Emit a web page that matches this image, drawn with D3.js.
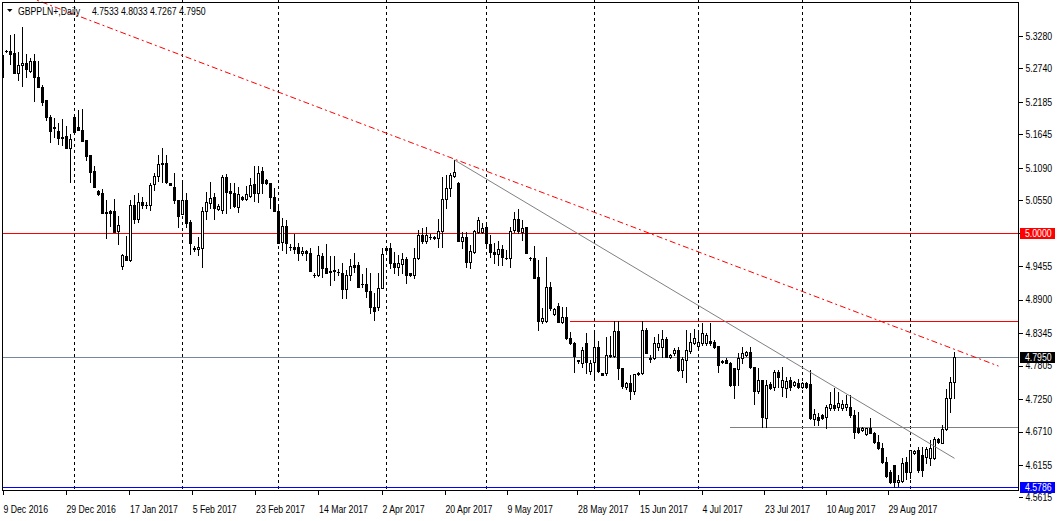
<!DOCTYPE html>
<html>
<head>
<meta charset="utf-8">
<script src="https://cdn.jsdelivr.net/npm/d3@7"></script>
<style>
  html, body { margin: 0; padding: 0; background: #fff; }
  svg { display: block; font-family: "Liberation Sans", Arial, sans-serif; }
</style>
</head>
<body>
<svg id="chart" width="1058" height="521"></svg>
<script>
"use strict";

// ---- data (daily GBPPLN+, one row per bar: open, high, low, close) ----
const symbol = "GBPPLN+,Daily";

const ohlc = [
  // 0
  [5.2595, 5.3209, 5.2495, 5.2960], [5.3026, 5.3043, 5.3010, 5.3020], [5.3026, 5.3292, 5.2811, 5.2977],
  [5.2988, 5.3304, 5.2656, 5.2666], [5.2666, 5.3015, 5.2545, 5.2794], [5.2794, 5.3430, 5.2450, 5.2827],
  [5.2832, 5.2977, 5.2595, 5.2733], [5.2699, 5.2910, 5.2683, 5.2855], [5.2865, 5.2977, 5.2201, 5.2590],
  [5.2590, 5.2860, 5.2434, 5.2434],
  // 10
  [5.2434, 5.2462, 5.2130, 5.2185], [5.2213, 5.2213, 5.1881, 5.1936], [5.1936, 5.1964, 5.1521, 5.1698],
  [5.1765, 5.1914, 5.1604, 5.1748], [5.1698, 5.1836, 5.1483, 5.1577], [5.1599, 5.1903, 5.1466, 5.1582],
  [5.1615, 5.1781, 5.1421, 5.1421], [5.1421, 5.1649, 5.0857, 5.1566], [5.1931, 5.1936, 5.1687, 5.1687],
  [5.1770, 5.2047, 5.1715, 5.1715],
  // 20
  [5.1715, 5.2064, 5.1537, 5.1537], [5.1549, 5.1549, 5.1217, 5.1288], [5.1300, 5.1300, 5.0847, 5.1023],
  [5.1034, 5.1122, 5.0774, 5.0774], [5.0697, 5.0719, 5.0641, 5.0653], [5.0664, 5.0731, 5.0342, 5.0342],
  [5.0354, 5.0553, 4.9917, 5.0337], [5.0365, 5.0387, 5.0121, 5.0342], [5.0365, 5.0570, 5.0027, 5.0027],
  [5.0043, 5.0287, 4.9823, 5.0138],
  // 30
  [4.9457, 4.9651, 4.9403, 4.9635], [4.9623, 4.9955, 4.9557, 4.9557], [4.9557, 5.0553, 4.9545, 5.0465],
  [5.0465, 5.0636, 5.0166, 5.0233], [5.0233, 5.0664, 5.0193, 5.0525], [5.0525, 5.0608, 5.0415, 5.0470],
  [5.0470, 5.0525, 5.0415, 5.0465], [5.0470, 5.0830, 5.0387, 5.0797], [5.0814, 5.1006, 5.0719, 5.0956],
  [5.0956, 5.1300, 5.0868, 5.1146],
  // 40
  [5.1146, 5.1411, 5.0852, 5.1160], [5.1162, 5.1300, 5.0830, 5.0857], [5.0830, 5.0835, 5.0795, 5.0802],
  [5.0764, 5.0996, 5.0498, 5.0553], [5.0553, 5.0553, 5.0110, 5.0292], [5.0321, 5.0830, 5.0321, 5.0553],
  [5.0553, 5.0664, 5.0110, 5.0171], [5.0193, 5.0221, 4.9657, 4.9834], [4.9756, 4.9790, 4.9706, 4.9745],
  [4.9734, 4.9944, 4.9640, 4.9767],
  // 50
  [4.9751, 5.0442, 4.9446, 5.0370], [5.0370, 5.0691, 5.0233, 5.0520], [5.0508, 5.0847, 5.0415, 5.0581],
  [5.0598, 5.0664, 5.0233, 5.0415], [5.0399, 5.0482, 5.0387, 5.0454], [5.0387, 5.0963, 5.0342, 5.0930],
  [5.0930, 5.0980, 5.0342, 5.0691], [5.0702, 5.0830, 5.0415, 5.0664], [5.0664, 5.0830, 5.0442, 5.0458],
  [5.0442, 5.0764, 5.0359, 5.0648],
  // 60
  [5.0598, 5.0625, 5.0553, 5.0575], [5.0570, 5.0786, 5.0548, 5.0648], [5.0624, 5.0923, 5.0598, 5.0802],
  [5.0824, 5.1117, 5.0536, 5.0674], [5.0674, 5.1117, 5.0525, 5.0996], [5.1034, 5.1106, 5.0664, 5.0840],
  [5.0890, 5.0902, 5.0813, 5.0830], [5.0840, 5.0840, 5.0415, 5.0608], [5.0598, 5.0747, 5.0375, 5.0375],
  [5.0375, 5.0470, 4.9834, 4.9844],
  // 70
  [4.9851, 5.0249, 4.9723, 5.0121], [5.0121, 5.0221, 4.9668, 4.9844], [4.9770, 4.9823, 4.9723, 4.9765],
  [4.9778, 4.9989, 4.9668, 4.9745], [4.9768, 4.9834, 4.9557, 4.9668], [4.9668, 4.9768, 4.9640, 4.9706],
  [4.9706, 4.9723, 4.9557, 4.9680], [4.9668, 4.9751, 4.9380, 4.9380], [4.9310, 4.9337, 4.9270, 4.9305],
  [4.9305, 4.9789, 4.9291, 4.9635],
  // 80
  [4.9623, 4.9678, 4.9280, 4.9419], [4.9419, 4.9823, 4.9346, 4.9346], [4.9375, 4.9623, 4.9142, 4.9358],
  [4.9391, 4.9623, 4.9225, 4.9370], [4.9360, 4.9403, 4.9314, 4.9355], [4.9336, 4.9502, 4.8921, 4.9071],
  [4.9071, 4.9391, 4.8921, 4.9308], [4.9308, 4.9578, 4.9225, 4.9457], [4.9474, 4.9678, 4.9363, 4.9446],
  [4.9474, 4.9529, 4.9104, 4.9114],
  // 90
  [4.9163, 4.9325, 4.9104, 4.9158], [4.9158, 4.9429, 4.8948, 4.9047], [4.9047, 4.9336, 4.8672, 4.8782],
  [4.8782, 4.9004, 4.8561, 4.8715], [4.8782, 4.9336, 4.8727, 4.9097], [4.9097, 4.9751, 4.9087, 4.9652],
  [4.9761, 4.9789, 4.9711, 4.9723], [4.9751, 4.9834, 4.9419, 4.9502], [4.9512, 4.9695, 4.9336, 4.9446],
  [4.9446, 4.9640, 4.9308, 4.9502],
  // 100
  [4.9491, 4.9668, 4.9336, 4.9574], [4.9574, 4.9602, 4.9170, 4.9308], [4.9336, 4.9346, 4.9291, 4.9308],
  [4.9308, 4.9751, 4.9253, 4.9585], [4.9585, 5.0055, 4.9568, 4.9967], [4.9967, 5.0083, 4.9834, 4.9873],
  [4.9873, 5.0100, 4.9834, 4.9967], [4.9944, 4.9989, 4.9906, 4.9940], [4.9935, 4.9960, 4.9910, 4.9930],
  [4.9917, 5.0233, 4.9768, 5.0038],
  // 110
  [5.0038, 5.0940, 4.9768, 5.0565], [5.0565, 5.0968, 5.0415, 5.0757], [5.0757, 5.1006, 5.0619, 5.0968],
  [5.0956, 5.1217, 5.0940, 5.1013], [5.0830, 5.0850, 4.9870, 4.9877], [4.9877, 5.0027, 4.9751, 4.9934],
  [4.9934, 5.0027, 4.9446, 4.9529], [4.9529, 4.9806, 4.9419, 4.9706], [4.9695, 5.0055, 4.9668, 5.0038],
  [5.0027, 5.0276, 5.0000, 5.0216],
  // 120
  [5.0017, 5.0166, 5.0000, 5.0088], [5.0100, 5.0166, 4.9806, 4.9834], [4.9823, 4.9972, 4.9612, 4.9695],
  [4.9695, 4.9834, 4.9502, 4.9651], [4.9651, 4.9873, 4.9474, 4.9734], [4.9740, 4.9806, 4.9474, 4.9612],
  [4.9590, 4.9723, 4.9568, 4.9585], [4.9585, 5.0100, 4.9446, 5.0043], [5.0055, 5.0359, 5.0027, 5.0233],
  [5.0233, 5.0398, 5.0010, 5.0038],
  // 130
  [5.0027, 5.0221, 4.9889, 5.0088], [5.0100, 5.0110, 4.9668, 4.9678], [4.9590, 4.9602, 4.9557, 4.9585],
  [4.9585, 4.9789, 4.9253, 4.9263], [4.9280, 4.9557, 4.8395, 4.8549], [4.8549, 4.8755, 4.8506, 4.8589],
  [4.8549, 4.9602, 4.8533, 4.9114], [4.9114, 4.9197, 4.8727, 4.8755], [4.8661, 4.8755, 4.8644, 4.8739],
  [4.8798, 4.8838, 4.8523, 4.8523],
  // 140
  [4.8523, 4.8782, 4.8506, 4.8606], [4.8616, 4.8782, 4.8240, 4.8257], [4.8257, 4.8367, 4.8163, 4.8174],
  [4.8174, 4.8201, 4.7703, 4.7963], [4.7890, 4.7897, 4.7852, 4.7885], [4.7842, 4.8118, 4.7786, 4.8063],
  [4.8179, 4.8345, 4.7681, 4.7864], [4.7720, 4.7897, 4.7665, 4.7853], [4.7856, 4.8350, 4.7620, 4.8118],
  [4.8118, 4.8217, 4.7703, 4.7720],
  // 150
  [4.7676, 4.7680, 4.7640, 4.7648], [4.7676, 4.8284, 4.7648, 4.7980], [4.7963, 4.8295, 4.7947, 4.7980],
  [4.7963, 4.8549, 4.7947, 4.8383], [4.8383, 4.8549, 4.7577, 4.7759], [4.7759, 4.7759, 4.7440, 4.7465],
  [4.7444, 4.7537, 4.7411, 4.7510], [4.7510, 4.7648, 4.7245, 4.7387], [4.7387, 4.7665, 4.7328, 4.7665],
  [4.7686, 4.7700, 4.7650, 4.7665],
  // 160
  [4.7676, 4.8549, 4.7665, 4.8395], [4.8395, 4.8423, 4.8018, 4.8018], [4.7925, 4.7980, 4.7869, 4.7920],
  [4.7925, 4.8284, 4.7908, 4.8174], [4.8118, 4.8328, 4.8063, 4.8184], [4.8118, 4.8395, 4.7952, 4.8240],
  [4.8240, 4.8284, 4.7942, 4.7952], [4.7942, 4.7990, 4.7930, 4.7980], [4.8008, 4.8091, 4.7980, 4.8063],
  [4.8063, 4.8118, 4.7720, 4.7731],
  // 170
  [4.7731, 4.7952, 4.7610, 4.7909], [4.7897, 4.8395, 4.7537, 4.8063], [4.8051, 4.8340, 4.8008, 4.8201],
  [4.8184, 4.8406, 4.8163, 4.8257], [4.8130, 4.8340, 4.8118, 4.8201], [4.8184, 4.8506, 4.8145, 4.8340],
  [4.8184, 4.8350, 4.8145, 4.8312], [4.8218, 4.8506, 4.8145, 4.8184], [4.8201, 4.8229, 4.8091, 4.8118],
  [4.8130, 4.8130, 4.7703, 4.7814],
  // 180
  [4.7880, 4.7890, 4.7850, 4.7860], [4.7897, 4.7925, 4.7842, 4.7852], [4.7852, 4.7869, 4.7465, 4.7482],
  [4.7759, 4.7759, 4.7261, 4.7482], [4.7748, 4.8008, 4.7482, 4.7925], [4.7925, 4.8118, 4.7842, 4.8018],
  [4.7980, 4.8045, 4.7970, 4.8035], [4.8030, 4.8118, 4.7759, 4.7776], [4.7776, 4.7776, 4.7167, 4.7387],
  [4.7387, 4.7764, 4.7354, 4.7565],
  // 190
  [4.7565, 4.7565, 4.6790, 4.6946], [4.6930, 4.7565, 4.6790, 4.7482], [4.7494, 4.7537, 4.7410, 4.7427],
  [4.7444, 4.7731, 4.7399, 4.7703], [4.7703, 4.7731, 4.7444, 4.7610], [4.7444, 4.7781, 4.7300, 4.7565],
  [4.7428, 4.7620, 4.7290, 4.7553], [4.7565, 4.7620, 4.7399, 4.7454], [4.7482, 4.7550, 4.7465, 4.7532],
  [4.7520, 4.7577, 4.7427, 4.7454],
  // 200
  [4.7444, 4.7530, 4.7430, 4.7510], [4.7510, 4.7530, 4.7440, 4.7454], [4.7498, 4.7731, 4.6912, 4.6929],
  [4.6912, 4.7078, 4.6818, 4.6999], [4.6946, 4.7012, 4.6818, 4.6901], [4.6984, 4.7000, 4.6910, 4.6929],
  [4.6946, 4.7150, 4.6773, 4.7122], [4.7095, 4.7371, 4.7067, 4.7167], [4.7150, 4.7427, 4.7067, 4.7095],
  [4.7112, 4.7371, 4.7067, 4.7178],
  // 210
  [4.7095, 4.7233, 4.7067, 4.7167], [4.7112, 4.7316, 4.7067, 4.7167], [4.7122, 4.7316, 4.6957, 4.6984],
  [4.6984, 4.7067, 4.6597, 4.6707], [4.6763, 4.7040, 4.6680, 4.6707], [4.6735, 4.6780, 4.6720, 4.6763],
  [4.6668, 4.6763, 4.6651, 4.6763], [4.6763, 4.6929, 4.6680, 4.6690], [4.6690, 4.6707, 4.6514, 4.6541],
  [4.6541, 4.6652, 4.6414, 4.6431],
  // 220
  [4.6431, 4.6514, 4.6182, 4.6209], [4.6209, 4.6292, 4.5960, 4.5972], [4.6043, 4.6071, 4.5860, 4.5877],
  [4.6154, 4.6154, 4.5786, 4.5877], [4.5877, 4.5988, 4.5800, 4.5905], [4.5893, 4.6265, 4.5877, 4.6192],
  [4.6209, 4.6292, 4.5917, 4.6043], [4.6043, 4.6403, 4.5933, 4.6403], [4.6348, 4.6403, 4.6337, 4.6392],
  [4.6403, 4.6448, 4.6043, 4.6071],
  // 230
  [4.6320, 4.6459, 4.5972, 4.6071], [4.6292, 4.6459, 4.6182, 4.6414], [4.6265, 4.6569, 4.6154, 4.6431],
  [4.6265, 4.6614, 4.6248, 4.6581], [4.6581, 4.6597, 4.6524, 4.6541], [4.6524, 4.6818, 4.6514, 4.6746],
  [4.6746, 4.7411, 4.6735, 4.7261], [4.7261, 4.7620, 4.7040, 4.7537], [4.7533, 4.8033, 4.7267, 4.7950]
];

// right price scale
const priceTicks = [5.3280, 5.2740, 5.2185, 5.1645, 5.1090, 5.0550, 5.0000, 4.9455,
                    4.8900, 4.8345, 4.7805, 4.7250, 4.6710, 4.6155, 4.5615];
const priceRange = [4.5739, 5.3873];

// time scale: bar positions of the date labels
const dateTicks = [0, 15.75, 31.65, 47.3, 63.15, 78.9, 94.75, 110.5, 126,
                   143.65, 159.15, 174.75, 190.4, 205.8, 221.25];
const dateLabels = ["9 Dec 2016", "29 Dec 2016", "17 Jan 2017", "5 Feb 2017", "23 Feb 2017",
                    "14 Mar 2017", "2 Apr 2017", "20 Apr 2017", "9 May 2017", "28 May 2017",
                    "15 Jun 2017", "4 Jul 2017", "23 Jul 2017", "10 Aug 2017", "29 Aug 2017"];
const barSlots = 254;

// first bar of each month (period separators)
const monthStarts = [18, 45, 69, 96, 121, 148, 174, 200, 227];

// drawn objects: trend lines as [bar, price] pairs, horizontal levels
const redTrend = [[0, 5.4087], [249, 4.7796]];
const grayTrend = [[113, 5.1217], [238, 4.6265]];
const roundLevel = 5.0000;
const resistLevel = 4.8550, resistFrom = 142;
const supportLevel = 4.6785, supportFrom = 182;
const lowLevel = 4.5786;
const bid = ohlc[ohlc.length - 1][3];

// ---- layout ----
const W = 1058, H = 521;
const L = 2, R = 1018, T = 0, B = 490;
const FS = 10.5;      // terminal font size
const SQ = 0.83;      // horizontal squeeze to get the narrow terminal look

const svg = d3.select("#chart");
const x = d3.scaleLinear().domain([0, barSlots]).range([L, L + 4 * barSlots]);
const y = d3.scaleLinear().domain(priceRange).range([B, T]);
const px = (i) => Math.round(x(i));
const py = (p) => Math.round(y(p));
const fmt = d3.format(".4f");

// place a text at (tx, ty) squeezed horizontally
const narrow = (sel, tx, ty) =>
  sel.attr("x", null).attr("transform", `translate(${tx},${ty}) scale(${SQ},1)`);

svg.append("defs").append("clipPath").attr("id", "plot")
  .append("rect").attr("x", L).attr("y", T).attr("width", R - L).attr("height", B - T);

const plot = svg.append("g").attr("clip-path", "url(#plot)")
  .attr("shape-rendering", "crispEdges");

// month separators
plot.selectAll("line.sep").data(monthStarts).enter().append("line")
  .attr("class", "sep")
  .attr("x1", (d) => px(d) + 0.5).attr("x2", (d) => px(d) + 0.5)
  .attr("y1", T).attr("y2", B)
  .attr("stroke", "#000").attr("stroke-width", 1).attr("stroke-dasharray", "3,3");

// horizontal levels
function hline(price, from, color) {
  plot.append("line")
    .attr("x1", from == null ? L : px(from)).attr("x2", R)
    .attr("y1", py(price) + 0.5).attr("y2", py(price) + 0.5)
    .attr("stroke", color).attr("stroke-width", 1);
}
hline(roundLevel, null, "#ff0000");
hline(resistLevel, resistFrom, "#ff0000");
hline(bid, null, "#778899");
hline(supportLevel, supportFrom, "#808080");
hline(lowLevel, null, "#0000ff");

// candles
const cg = plot.append("g");
ohlc.forEach(([o, h, l, c], i) => {
  const cx = px(i);
  const yh = py(h), yl = py(l);
  const top = py(Math.max(o, c)), bot = py(Math.min(o, c));
  cg.append("rect").attr("x", cx).attr("y", yh).attr("width", 1)
    .attr("height", Math.max(1, yl - yh + 1)).attr("fill", "#000");
  cg.append("rect").attr("x", cx - 1).attr("y", top).attr("width", 3)
    .attr("height", bot - top + 1).attr("fill", "#000");
  if (c > o && bot - top > 1) {
    cg.append("rect").attr("x", cx).attr("y", top + 1).attr("width", 1)
      .attr("height", bot - top - 1).attr("fill", "#fff");
  }
});

// trend lines
const tl = d3.line().x((d) => x(d[0]) + 0.5).y((d) => y(d[1]));
const lines = svg.append("g").attr("clip-path", "url(#plot)");
lines.append("path").attr("d", tl(grayTrend))
  .attr("fill", "none").attr("stroke", "#808080").attr("stroke-width", 1);
lines.append("path").attr("d", tl(redTrend))
  .attr("fill", "none").attr("stroke", "#ff0000").attr("stroke-width", 1)
  .attr("stroke-dasharray", "6,3,2,3");

// frame
svg.append("rect").attr("x", L + 0.5).attr("y", 2.5).attr("width", R - L).attr("height", B - 2)
  .attr("fill", "none").attr("stroke", "#000").attr("shape-rendering", "crispEdges");

// price axis
const yAxis = d3.axisRight(y).tickValues(priceTicks).tickSize(4).tickSizeOuter(0)
  .tickFormat(fmt);
const ya = svg.append("g").attr("transform", `translate(${R + 0.5},0)`)
  .attr("shape-rendering", "crispEdges").call(yAxis);
ya.select(".domain").remove();
ya.selectAll("line").attr("stroke", "#000");
ya.selectAll("text").attr("font-size", FS).attr("font-family", null).attr("fill", "#000")
  .call(narrow, 7, 0);

// time axis
const xAxis = d3.axisBottom(x).tickValues(dateTicks).tickSize(4).tickSizeOuter(0)
  .tickFormat((d, i) => dateLabels[i]);
const xa = svg.append("g").attr("transform", `translate(0,${B + 0.5})`)
  .attr("shape-rendering", "crispEdges").call(xAxis);
xa.select(".domain").remove();
xa.selectAll(".tick line").attr("stroke", "#000").attr("transform", "translate(0.5,0)");
xa.selectAll("text").attr("font-size", FS).attr("font-family", null).attr("fill", "#000")
  .attr("text-anchor", "start").attr("y", null).attr("dy", null)
  .call(narrow, 1, 22);

// price tags on the axis
function tag(price, bg) {
  const yy = py(price);
  const g = svg.append("g");
  g.append("rect").attr("x", R + 2).attr("y", yy - 5).attr("width", 35).attr("height", 11)
    .attr("fill", bg).attr("shape-rendering", "crispEdges");
  g.append("text").attr("dy", "0.35em").attr("font-size", FS).attr("fill", "#fff")
    .text(fmt(price)).call(narrow, R + 7, yy + 0.5);
}
tag(roundLevel, "#ff0000");
tag(bid, "#000");
tag(lowLevel, "#0000ff");

// header
svg.append("path").attr("d", "M7,9 L12.5,9 L9.75,12 Z").attr("fill", "#000");
svg.append("text").attr("font-size", FS).attr("fill", "#000")
  .text(symbol).call(narrow, 18, 14.5);
const last = ohlc[ohlc.length - 1];
svg.append("text").attr("font-size", FS).attr("fill", "#000")
  .text(last.map(fmt).join(" ")).call(narrow, 92, 14.5);
</script>
</body>
</html>
